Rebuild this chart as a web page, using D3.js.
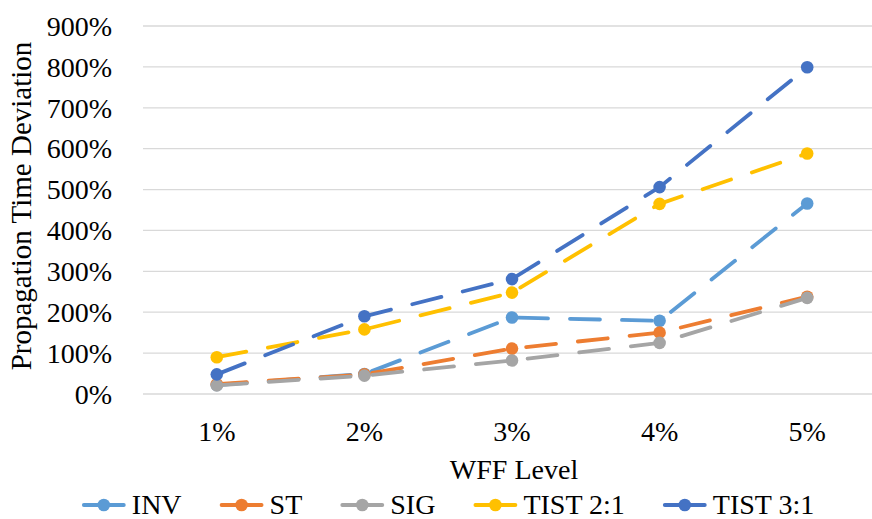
<!DOCTYPE html>
<html>
<head>
<meta charset="utf-8">
<script src="https://cdn.jsdelivr.net/npm/d3@7"></script>
<style>
  html, body { margin: 0; padding: 0; background: #fff; }
  svg { display: block; }
</style>
</head>
<body>
<svg id="chart" width="872" height="519"></svg>
<script>
// ---- data ----
const categories = ["1%", "2%", "3%", "4%", "5%"];
const seriesNames = ["INV", "ST", "SIG", "TIST 2:1", "TIST 3:1"];
const seriesColors = ["#5B9BD5", "#ED7D31", "#A5A5A5", "#FFC000", "#4472C4"];
const invValues  = [0.22, 0.49, 1.87, 1.79, 4.66];
const stValues   = [0.24, 0.48, 1.11, 1.50, 2.38];
const sigValues  = [0.21, 0.45, 0.82, 1.25, 2.35];
const tist21Values = [0.90, 1.58, 2.48, 4.65, 5.88];
const tist31Values = [0.48, 1.90, 2.81, 5.06, 7.99];
const yTicks = [0, 1, 2, 3, 4, 5, 6, 7, 8, 9];
const yTitle = "Propagation Time Deviation";
const xTitle = "WFF Level";

const allSeries = [invValues, stValues, sigValues, tist21Values, tist31Values];

// ---- layout ----
const FONT = "'Liberation Serif', 'Times New Roman', Tinos, Times, serif";
const svg = d3.select("#chart").attr("font-family", FONT);
const plot = { left: 143, right: 881, top: 26, bottom: 394 };
const fontSize = 28;

const x = d3.scaleBand().domain(categories).range([plot.left, plot.right]);
const xc = c => x(c) + x.bandwidth() / 2;
const y = d3.scaleLinear().domain([0, 9]).range([plot.bottom, plot.top]);
const fmt = d3.format(".0%");

// gridlines
svg.append("g").selectAll("line").data(yTicks).join("line")
  .attr("x1", plot.left).attr("x2", plot.right)
  .attr("y1", d => y(d)).attr("y2", d => y(d))
  .attr("stroke", "#D9D9D9").attr("stroke-width", 1.3);

// y tick labels
svg.append("g").selectAll("text").data(yTicks).join("text")
  .attr("font-family", FONT)
  .attr("x", 112).attr("y", d => y(d))
  .attr("dy", "0.35em")
  .attr("text-anchor", "end")
  .attr("font-size", fontSize)
  .text(d => fmt(d));

// x tick labels
svg.append("g").selectAll("text").data(categories).join("text")
  .attr("font-family", FONT)
  .attr("x", d => xc(d)).attr("y", 441)
  .attr("text-anchor", "middle")
  .attr("font-size", fontSize)
  .text(d => d);

// axis titles
svg.append("text")
  .attr("font-family", FONT)
  .attr("transform", "translate(31," + ((plot.top + plot.bottom) / 2 - 4) + ") rotate(-90)")
  .attr("text-anchor", "middle")
  .attr("font-size", 29)
  .text(yTitle);

svg.append("text")
  .attr("font-family", FONT)
  .attr("x", 514).attr("y", 479)
  .attr("text-anchor", "middle")
  .attr("font-size", fontSize)
  .text(xTitle);

// series
const line = d3.line().x((d, i) => xc(categories[i])).y(d => y(d));
const gSeries = svg.append("g");
allSeries.forEach((vals, si) => {
  const g = gSeries.append("g");
  g.append("path")
    .attr("d", line(vals))
    .attr("fill", "none")
    .attr("stroke", seriesColors[si])
    .attr("stroke-width", 3.8)
    .attr("stroke-linecap", "round")
    .attr("stroke-linejoin", "round")
    .attr("stroke-dasharray", "30 22");
  g.selectAll("circle").data(vals).join("circle")
    .attr("cx", (d, i) => xc(categories[i]))
    .attr("cy", d => y(d))
    .attr("r", 6.3)
    .attr("fill", seriesColors[si]);
});

// legend
const legend = svg.append("g");
const items = seriesNames.map((name, i) => {
  const g = legend.append("g");
  g.append("line").attr("x1", 0).attr("x2", 40).attr("y1", 0).attr("y2", 0)
    .attr("stroke", seriesColors[i]).attr("stroke-width", 3.8).attr("stroke-linecap", "round");
  g.append("circle").attr("cx", 20).attr("cy", 0).attr("r", 6.3).attr("fill", seriesColors[i]);
  const t = g.append("text").attr("x", 48).attr("y", 0).attr("dy", "0.33em")
    .attr("font-family", FONT)
    .attr("font-size", fontSize).text(name);
  return { g, w: 48 + t.node().getComputedTextLength() };
});
const gap = 40;
const total = d3.sum(items, d => d.w) + gap * (items.length - 1);
let cur = 449 - total / 2;
items.forEach(it => {
  it.g.attr("transform", "translate(" + cur + ",505)");
  cur += it.w + gap;
});
</script>
</body>
</html>
